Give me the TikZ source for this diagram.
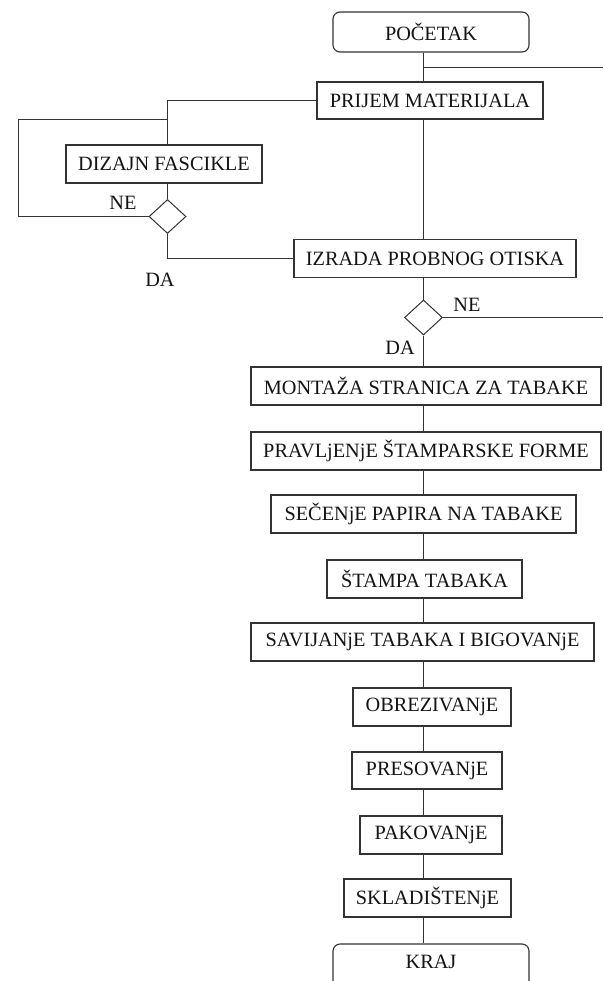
\documentclass[tikz,border=0pt]{standalone}
\usepackage{fontspec}
\setmainfont{Liberation Serif}
\usetikzlibrary{shapes.geometric}
\begin{document}
\begin{tikzpicture}[x=1pt,y=-1pt,
  every node/.style={font=\fontsize{20.3}{24}\selectfont, text=black!92},
  box/.style={draw=black!80, line width=1.1pt, rectangle, inner sep=0pt, minimum height=38pt},
  term/.style={box, rounded corners=7pt, minimum width=196pt, minimum height=40pt},
  dec/.style={draw=black!80, line width=1pt, diamond, inner sep=0pt, minimum width=37pt, minimum height=34pt},
  conn/.style={draw=black!80, line width=1.1pt},
  lbl/.style={inner sep=0pt}]
\useasboundingbox (0,0) rectangle (603,981);
\fill[white] (0,0) rectangle (603,981);
% nodes
\node[term] (poc) at (431,32) {POČETAK};
\node[box, minimum width=226pt, minimum height=37pt] (prijem) at (430,100.5) {PRIJEM MATERIJALA};
\node[box, minimum width=196pt] (dizajn) at (164,164) {DIZAJN FASCIKLE};
\node[dec] (d1) at (167.5,216.5) {};
\node[box, minimum width=282pt] (izrada) at (435,258.5) {IZRADA PROBNOG OTISKA};
\node[dec, minimum width=38pt, minimum height=35pt] (d2) at (423.5,317.5) {};
\node[box, minimum width=350pt] (montaza) at (426,386) {MONTAŽA STRANICA ZA TABAKE};
\node[box, minimum width=350pt] (pravl) at (426,451) {PRAVLjENjE ŠTAMPARSKE FORME};
\node[box, minimum width=305pt] (secenje) at (423.5,514) {SEČENjE PAPIRA NA TABAKE};
\node[box, minimum width=195pt] (stampa) at (424.5,579) {ŠTAMPA TABAKA};
\node[box, minimum width=343pt] (savij) at (422.5,642) {SAVIJANjE TABAKA I BIGOVANjE};
\node[box, minimum width=158pt] (obrez) at (432,707) {OBREZIVANjE};
\node[box, minimum width=150pt, minimum height=37pt] (preso) at (427,770.5) {PRESOVANjE};
\node[box, minimum width=142pt] (pakov) at (431,835) {PAKOVANjE};
\node[box, minimum width=167pt] (sklad) at (427.5,898) {SKLADIŠTENjE};
\node[term, minimum height=44pt] (kraj) at (431,966) {};
\node[lbl] (krajt) at (431,962) {KRAJ};
% labels
\node[lbl] (ne1) at (123,203) {NE};
\node[lbl] (da1) at (160,280) {DA};
\node[lbl] (ne2) at (467,305) {NE};
\node[lbl] (da2) at (400,348) {DA};
% coordinates
\coordinate (sp) at (423.5,0);
\coordinate (rtop) at (603,67.5);
\coordinate (rmid) at (603,317.5);
\coordinate (lp) at (18.5,119.5);
% connectors
\draw[conn] (sp |- poc.south) -- (sp |- prijem.north);
\draw[conn] (sp |- rtop) -- (rtop);
\draw[conn] (prijem.west) -| (d1 |- dizajn.north);
\draw[conn] (d1.west) -| (lp) -- (lp -| d1);
\draw[conn] (d1 |- dizajn.south) -- (d1.north);
\draw[conn] (d1.south) |- (izrada.west);
\draw[conn] (sp |- prijem.south) -- (sp |- izrada.north);
\draw[conn] (d2 |- izrada.south) -- (d2.north);
\draw[conn] (d2.east) -- (rmid);
\draw[conn] (d2.south) -- (d2 |- montaza.north);
\draw[conn] (sp |- montaza.south) -- (sp |- pravl.north);
\draw[conn] (sp |- pravl.south) -- (sp |- secenje.north);
\draw[conn] (sp |- secenje.south) -- (sp |- stampa.north);
\draw[conn] (sp |- stampa.south) -- (sp |- savij.north);
\draw[conn] (sp |- savij.south) -- (sp |- obrez.north);
\draw[conn] (sp |- obrez.south) -- (sp |- preso.north);
\draw[conn] (sp |- preso.south) -- (sp |- pakov.north);
\draw[conn] (sp |- pakov.south) -- (sp |- sklad.north);
\draw[conn] (sp |- sklad.south) -- (sp |- kraj.north);
\end{tikzpicture}
\end{document}
